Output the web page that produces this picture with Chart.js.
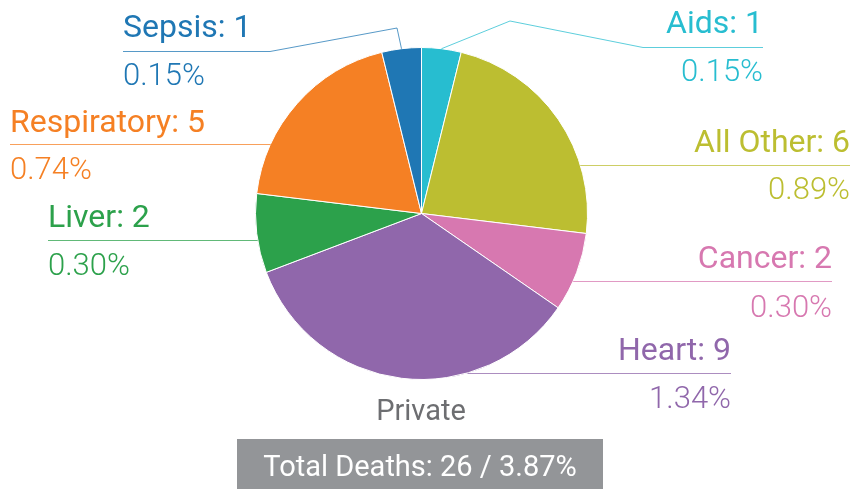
<!DOCTYPE html>
<html>
<head>
<meta charset="utf-8">
<script src="https://cdn.jsdelivr.net/npm/chart.js@4"></script>
<style>
  html, body { margin: 0; padding: 0; background: #fff; }
  #wrap { position: relative; width: 854px; height: 489px; }
</style>
</head>
<body>
<div id="wrap"><canvas id="chart"></canvas></div>
<script>
// data, clockwise from 12 o'clock
const categories = ['Aids', 'All Other', 'Cancer', 'Heart', 'Liver', 'Respiratory', 'Sepsis'];
const deaths = [1, 6, 2, 9, 2, 5, 1];
const percents = ['0.15%', '0.89%', '0.30%', '1.34%', '0.30%', '0.74%', '0.15%'];
const colors = ['#27bdd0', '#bcbe31', '#d778b0', '#9067ab', '#2ca14b', '#f58024', '#1f77b4'];
const groupName = 'Private';
const totalLabel = 'Total Deaths: 26 / 3.87%';

// label layout (text anchor, baselines, underline)
const labelLayout = [
  { align: 'right', x: 763, nameY: 33, pctY: 81, lineY: 47, lineFrom: 643, elbow: [510, 21] },  // Aids
  { align: 'right', x: 850, nameY: 152, pctY: 199, lineY: 165 },                              // All Other
  { align: 'right', x: 832, nameY: 268, pctY: 317, lineY: 281 },                              // Cancer
  { align: 'right', x: 731, nameY: 360, pctY: 408, lineY: 373 },                              // Heart
  { align: 'left', x: 48, nameY: 227, pctY: 275, lineY: 240 },                                // Liver
  { align: 'left', x: 10, nameY: 132, pctY: 179, lineY: 144 },                                // Respiratory
  { align: 'left', x: 123, nameY: 37, pctY: 85, lineY: 51, lineFrom: 270, elbow: [397, 28] }  // Sepsis
];

function hexAlpha(hex, a) {
  const n = parseInt(hex.slice(1), 16);
  return `rgba(${(n >> 16) & 255}, ${(n >> 8) & 255}, ${n & 255}, ${a})`;
}

const calloutPlugin = {
  id: 'callouts',
  afterDraw(chart) {
    const ctx = chart.ctx;
    const meta = chart.getDatasetMeta(0);
    ctx.save();
    meta.data.forEach((arc, i) => {
      const lay = labelLayout[i];
      const { x: cx, y: cy, outerRadius: r, startAngle, endAngle } = arc.getProps(['x', 'y', 'outerRadius', 'startAngle', 'endAngle'], true);
      const col = colors[i];

      // leader line
      ctx.strokeStyle = hexAlpha(col, 0.75);
      ctx.lineWidth = 1;
      ctx.beginPath();
      if (lay.elbow) {
        const mid = (startAngle + endAngle) / 2;
        const px = cx + Math.cos(mid) * r;
        const py = cy + Math.sin(mid) * r;
        ctx.moveTo(lay.x, lay.lineY + 0.5);
        ctx.lineTo(lay.lineFrom, lay.lineY + 0.5);
        ctx.lineTo(lay.elbow[0], lay.elbow[1]);
        ctx.lineTo(px, py);
      } else {
        const dy = lay.lineY - cy;
        const dx = Math.sqrt(Math.max(r * r - dy * dy, 0));
        const edgeX = lay.align === 'right' ? cx + dx : cx - dx;
        ctx.moveTo(lay.x, lay.lineY + 0.5);
        ctx.lineTo(edgeX, lay.lineY + 0.5);
      }
      ctx.stroke();

      // texts
      ctx.fillStyle = col;
      ctx.textAlign = lay.align;
      ctx.textBaseline = 'alphabetic';
      ctx.font = '400 32px Roboto';
      ctx.fillText(`${categories[i]}: ${deaths[i]}`, lay.x, lay.nameY);
      ctx.font = '300 31px Roboto';
      ctx.fillText(percents[i], lay.x, lay.pctY);
    });

    // group caption and total box
    ctx.textAlign = 'center';
    ctx.fillStyle = '#6d6e71';
    ctx.font = '400 29px Roboto';
    ctx.fillText(groupName, 421, 420);

    ctx.fillStyle = '#939598';
    ctx.fillRect(237, 439, 366, 50);
    ctx.fillStyle = '#ffffff';
    ctx.font = '400 29px Roboto';
    ctx.fillText(totalLabel, 420, 476);
    ctx.restore();
  }
};

new Chart(document.getElementById('chart').getContext('2d'), {
  type: 'pie',
  data: {
    labels: categories,
    datasets: [{
      data: deaths,
      backgroundColor: colors,
      borderColor: '#ffffff',
      borderWidth: 1
    }]
  },
  options: {
    responsive: true,
    maintainAspectRatio: false,
    animation: false,
    layout: {
      padding: { left: 255, right: 266, top: 47, bottom: 109 }
    },
    plugins: {
      legend: { display: false },
      tooltip: { enabled: false }
    }
  },
  plugins: [calloutPlugin]
});
</script>
</body>
</html>
